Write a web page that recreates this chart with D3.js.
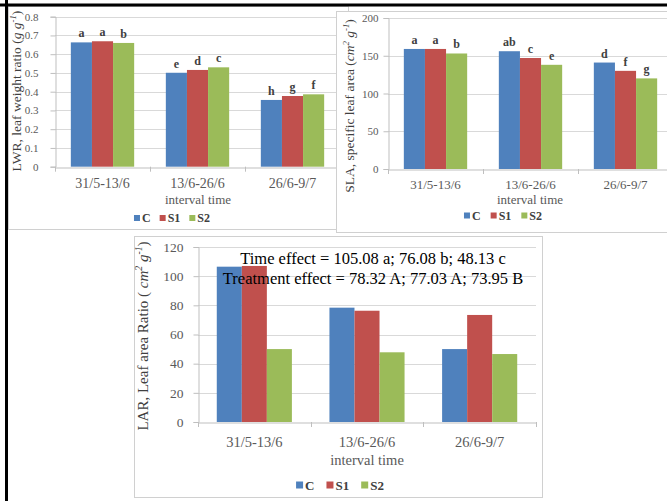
<!DOCTYPE html>
<html>
<head>
<meta charset="utf-8">
<script src="https://cdn.jsdelivr.net/npm/d3@7"></script>
<style>
  body { margin: 0; background: #fff; }
  svg { display: block; }
  text { font-family: "Liberation Serif", "Times New Roman", serif; }
</style>
</head>
<body>
<svg id="chart" width="667" height="501"></svg>
<script>
//Shared categories and series
var intervals = ["31/5-13/6", "13/6-26/6", "26/6-9/7"];
var treatments = ["C", "S1", "S2"];
var colors = ["#4F81BD", "#C0504D", "#9BBB59"];

//LWR, leaf weight ratio
var lwrC = [0.663, 0.501, 0.356];
var lwrS1 = [0.669, 0.516, 0.377];
var lwrS2 = [0.660, 0.530, 0.386];
var lwrLetC = ["a", "e", "h"];
var lwrLetS1 = ["a", "d", "g"];
var lwrLetS2 = ["b", "c", "f"];
var lwrTicks = [0, 0.1, 0.2, 0.3, 0.4, 0.5, 0.6, 0.7, 0.8];

//SLA, specific leaf area
var slaC = [159, 156, 141];
var slaS1 = [159, 147, 130];
var slaS2 = [153, 138, 120];
var slaLetC = ["a", "ab", "d"];
var slaLetS1 = ["a", "c", "f"];
var slaLetS2 = ["b", "e", "g"];
var slaTicks = [0, 50, 100, 150, 200];

//LAR, leaf area ratio
var larC = [106.5, 78.4, 50];
var larS1 = [107, 76.3, 73.4];
var larS2 = [50, 47.8, 46.6];
var larTicks = [0, 20, 40, 60, 80, 100, 120];
var larNotes = ["Time effect = 105.08 a; 76.08 b; 48.13 c",
                "Treatment effect = 78.32 A; 77.03 A; 73.95 B"];

var svg = d3.select("#chart");
svg.append("rect").attr("width", 667).attr("height", 501).attr("fill", "#fff");

//Draws one clustered column chart inside its own framed box
function drawPanel(cfg) {
    var g = svg.append("g");

    //white frame
    g.append("rect")
        .attr("x", cfg.box[0] + 0.5).attr("y", cfg.box[1] + 0.5)
        .attr("width", cfg.box[2]).attr("height", cfg.box[3])
        .attr("fill", "#fff").attr("stroke", "#d0d0d0");

    var y = d3.scaleLinear().domain([0, cfg.max]).range([cfg.y0, cfg.yTop]);
    var x0 = d3.scaleBand().domain(intervals).range([cfg.left, cfg.right]);
    var bw = x0.bandwidth();
    var x1 = d3.scaleBand().domain(treatments).range([bw / 6, bw * 5 / 6]);

    //gridlines
    g.selectAll(".grid").data(cfg.ticks.slice(1)).enter().append("line")
        .attr("x1", cfg.left).attr("x2", cfg.right)
        .attr("y1", function (d) { return Math.round(y(d)) + 0.5; })
        .attr("y2", function (d) { return Math.round(y(d)) + 0.5; })
        .attr("stroke", "#d9d9d9");

    //bars
    var series = cfg.series.map(function (vals, i) {
        return vals.map(function (v, j) {
            return { cat: intervals[j], t: treatments[i], v: v, color: colors[i], letter: cfg.letters ? cfg.letters[i][j] : null };
        });
    });
    var flat = d3.merge(series);
    g.selectAll(".bar").data(flat).enter().append("rect")
        .attr("x", function (d) { return x0(d.cat) + x1(d.t); })
        .attr("width", x1.bandwidth())
        .attr("y", function (d) { return y(d.v); })
        .attr("height", function (d) { return cfg.y0 - y(d.v); })
        .attr("fill", function (d) { return d.color; });

    //significance letters
    if (cfg.letters) {
        g.selectAll(".letter").data(flat).enter().append("text")
            .attr("x", function (d) { return x0(d.cat) + x1(d.t) + x1.bandwidth() / 2; })
            .attr("y", function (d) { return y(d.v) - 5; })
            .attr("text-anchor", "middle")
            .attr("font-size", cfg.letterSize).attr("font-weight", "bold")
            .attr("fill", "#404040")
            .text(function (d) { return d.letter; });
    }

    //axes
    var yAxis = d3.axisLeft(y).tickValues(cfg.ticks).tickSize(5).tickPadding(cfg.yPad)
        .tickFormat(function (d) { return cfg.max < 1 ? (d === 0 ? "0" : d3.format(".1f")(d)) : d; });
    var ya = g.append("g").attr("transform", "translate(" + (cfg.left + 0.5) + ",0)").call(yAxis);
    ya.select(".domain").attr("stroke", "#bfbfbf");
    ya.selectAll(".tick line").attr("stroke", "#bfbfbf");
    ya.selectAll(".tick text").attr("font-size", cfg.yTickSize).attr("fill", "#595959");

    var xAxis = d3.axisBottom(x0).tickSize(0);
    var xa = g.append("g").attr("transform", "translate(0," + (Math.round(cfg.y0) + 0.5) + ")").call(xAxis);
    xa.select(".domain").attr("stroke", "#bfbfbf");
    xa.selectAll(".tick text").attr("font-size", cfg.xTickSize).attr("fill", "#595959")
        .attr("dy", null).attr("y", cfg.xBase);
    //tick marks at category boundaries
    g.selectAll(".xt").data(intervals.concat([null])).enter().append("line")
        .attr("x1", function (d, i) { return Math.round(cfg.left + i * bw) + 0.5; })
        .attr("x2", function (d, i) { return Math.round(cfg.left + i * bw) + 0.5; })
        .attr("y1", cfg.y0).attr("y2", cfg.y0 + 5)
        .attr("stroke", "#bfbfbf");

    //x title
    g.append("text")
        .attr("x", cfg.xTitle[0]).attr("y", cfg.xTitle[1])
        .attr("text-anchor", "middle").attr("font-size", cfg.xTitleSize)
        .attr("fill", "#595959")
        .text("interval time");

    //y title (rotated, with italic unit and superscripts)
    var yt = g.append("text")
        .attr("transform", "translate(" + cfg.yTitle[0] + "," + cfg.yTitle[1] + ") rotate(-90)")
        .attr("text-anchor", "middle").attr("font-size", cfg.yTitleSize)
        .attr("fill", "#404040");
    cfg.yParts.forEach(function (p) {
        var ts = yt.append("tspan").text(p.t);
        if (p.i) ts.attr("font-style", "italic");
        if (p.sup) ts.attr("font-size", cfg.yTitleSize * 0.65).attr("dy", -cfg.yTitleSize * 0.4);
        if (p.down) ts.attr("dy", cfg.yTitleSize * 0.4);
    });

    //legend, centered on the chart area
    var lg = g.append("g");
    var cursor = 0;
    treatments.forEach(function (t, i) {
        var s = cfg.legendSwatch;
        lg.append("rect").attr("x", cursor).attr("y", -s / 2).attr("width", s).attr("height", s)
            .attr("fill", colors[i]);
        var tx = lg.append("text").attr("x", cursor + s + 2).attr("y", cfg.legendSize * 0.35)
            .attr("font-size", cfg.legendSize).attr("font-weight", "bold").attr("fill", "#404040")
            .text(t);
        cursor += s + 2 + tx.node().getComputedTextLength() + cfg.legendGap;
    });
    var lw = cursor - cfg.legendGap;
    lg.attr("transform", "translate(" + (cfg.legend[0] - lw / 2) + "," + cfg.legend[1] + ")");

    //optional annotation lines
    if (cfg.notes) {
        cfg.notes.forEach(function (n, i) {
            g.append("text")
                .attr("x", cfg.noteX).attr("y", cfg.noteY + i * cfg.noteStep)
                .attr("text-anchor", "middle").attr("font-size", cfg.noteSize)
                .attr("fill", "#000")
                .text(n);
        });
    }
    return g;
}

drawPanel({
    box: [8, 6, 340, 223],
    left: 55, right: 340, y0: 166.7, yTop: 16.7, max: 0.8, ticks: lwrTicks,
    series: [lwrC, lwrS1, lwrS2], letters: [lwrLetC, lwrLetS1, lwrLetS2], letterSize: 12,
    yTickSize: 11, yPad: 12, xTickSize: 14, xBase: 20,
    xTitle: [198, 204], xTitleSize: 13,
    yTitle: [21, 91], yTitleSize: 13.5,
    yParts: [{ t: "LWR, leaf weight ratio (" }, { t: "g g", i: true }, { t: "-1", i: true, sup: true }, { t: ")", down: true }],
    legend: [172, 218], legendSwatch: 6, legendSize: 12, legendGap: 9
});

drawPanel({
    box: [336, 11, 340, 221],
    left: 388, right: 673, y0: 169, yTop: 18, max: 200, ticks: slaTicks,
    series: [slaC, slaS1, slaS2], letters: [slaLetC, slaLetS1, slaLetS2], letterSize: 12,
    yTickSize: 11, yPad: 5, xTickSize: 13, xBase: 19,
    xTitle: [530, 203.5], xTitleSize: 13,
    yTitle: [354, 106], yTitleSize: 13.5,
    yParts: [{ t: "SLA, specific leaf area (" }, { t: "cm", i: true }, { t: "2", i: true, sup: true }, { t: " g", i: true, down: true }, { t: "-1", i: true, sup: true }, { t: ")", down: true }],
    legend: [503, 215.5], legendSwatch: 6, legendSize: 12, legendGap: 10
});

drawPanel({
    box: [134, 236, 408, 261],
    left: 198, right: 536, y0: 422, yTop: 247, max: 120, ticks: larTicks,
    series: [larC, larS1, larS2], letters: null,
    yTickSize: 13.5, yPad: 10, xTickSize: 14.5, xBase: 24,
    xTitle: [367, 465], xTitleSize: 14.5,
    yTitle: [148, 336], yTitleSize: 15,
    yParts: [{ t: "LAR, Leaf area Ratio ( " }, { t: "cm", i: true }, { t: "2", i: true, sup: true }, { t: " g", i: true, down: true }, { t: "-1", i: true, sup: true }, { t: ")", down: true }],
    legend: [340, 485], legendSwatch: 7, legendSize: 13, legendGap: 12,
    notes: larNotes, noteX: 373, noteY: 264, noteStep: 20, noteSize: 16.5
});

//heavy black page borders (top and left)
svg.append("rect").attr("x", 0).attr("y", 3.5).attr("width", 667).attr("height", 3).attr("fill", "#000");
svg.append("rect").attr("x", 5).attr("y", 0).attr("width", 3).attr("height", 501).attr("fill", "#000");
</script>
</body>
</html>
